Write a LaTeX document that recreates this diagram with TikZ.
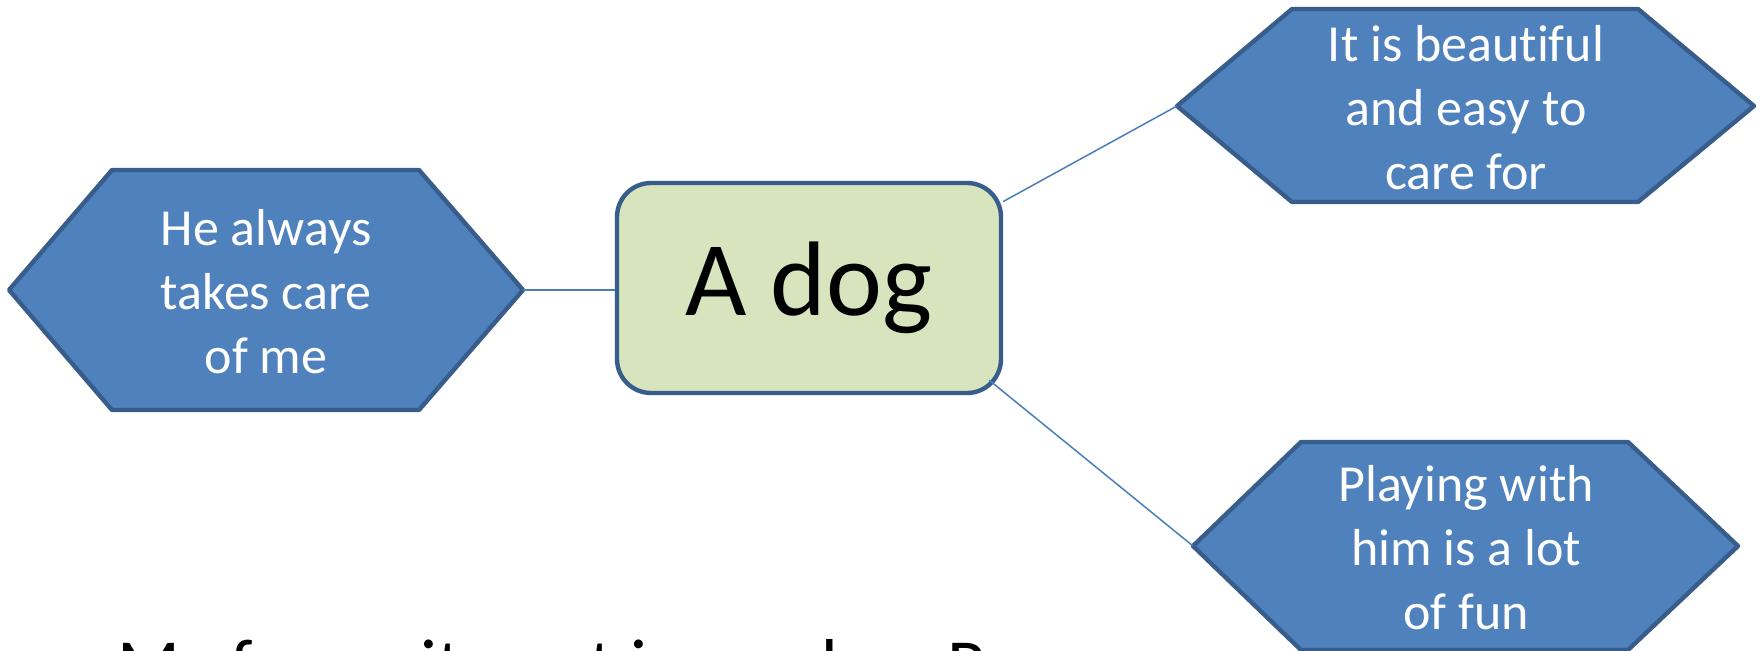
\documentclass[tikz,border=0pt]{standalone}
\usepackage{fontspec}
\setmainfont{Carlito}[Ligatures=NoCommon]
\usetikzlibrary{calc}
\definecolor{hexfillc}{HTML}{4F81BD}
\definecolor{edgec}{HTML}{385D8A}
\definecolor{dogfill}{HTML}{D7E4BD}
\definecolor{connc}{HTML}{4A7EBB}
\tikzset{
  hexshape/.style={fill=hexfillc, draw=edgec, line width=2.2pt, line join=round},
  hextext/.style={text=white, font=\fontsize{26}{32}\selectfont, align=center, inner sep=0pt},
  dogbox/.style={fill=dogfill, draw=edgec, line width=2.2pt, rounded corners=17pt,
    minimum width=192pt, minimum height=105pt, inner sep=0pt, font=\fontsize{53}{60}\selectfont},
  conn/.style={draw=connc, line width=0.75pt},
  bottomtext/.style={font=\fontsize{36.75}{44}\selectfont, inner sep=0pt, anchor=base west}
}
\begin{document}
\begin{tikzpicture}[x=0.5pt,y=-0.5pt]
\useasboundingbox (0,0) rectangle (1762,651);
\clip (0,0) rectangle (1762,651);
% partially visible bottom line
\node[bottomtext] (caption) at (117,690) {My favourite pet is my dog, Rex};
% left hexagon
\path[hexshape] (9,290) -- (112,170) -- (419,170) -- (523,290) -- (419,410) -- (112,410) -- cycle;
\node[hextext] (lefttxt) at (266,292) {He always\\takes care\\of me};
\coordinate (lefttip) at (523,290);
% top right hexagon
\path[hexshape] (1177,106) -- (1292,9) -- (1638,9) -- (1754,106) -- (1638,202) -- (1292,202) -- cycle;
\node[hextext] (toptxt) at (1466,108) {It is beautiful\\and easy to\\care for};
\coordinate (toptip) at (1177,106);
% bottom right hexagon
\path[hexshape] (1193,546) -- (1301,442) -- (1628,442) -- (1738,546) -- (1628,650) -- (1301,650) -- cycle;
\node[hextext] (bottxt) at (1466,548) {Playing with\\him is a lot\\of fun};
\coordinate (bottip) at (1193,546);
% central box
\node[dogbox] (dog) at (809,288) {A dog};
% connectors
\draw[conn] (lefttip) -- (lefttip -| dog.west);
\draw[conn] (dog.24) -- (toptip);
\draw[conn] ($(dog.south east)+(-14,-15)$) -- (bottip);
\end{tikzpicture}
\end{document}
